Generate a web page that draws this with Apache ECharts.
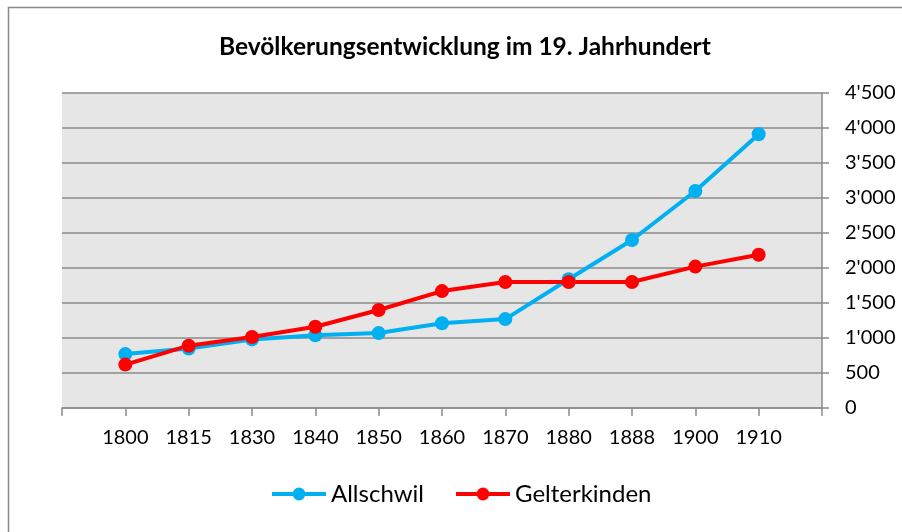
<!DOCTYPE html>
<html>
<head>
<meta charset="utf-8">
<script src="https://cdn.jsdelivr.net/npm/echarts@6/dist/echarts.min.js"></script>
<style>
  html, body { margin: 0; padding: 0; background: #fff; }
  #chart { width: 902px; height: 532px; }
</style>
</head>
<body>
<div id="chart"></div>
<script>
// Jahre (leere Kategorie vorne und hinten wie im Original)
const years = ['', '1800', '1815', '1830', '1840', '1850', '1860', '1870', '1880', '1888', '1900', '1910', ''];
const allschwil = [null, 770, 850, 980, 1040, 1070, 1210, 1270, 1840, 2400, 3100, 3910, null];
const gelterkinden = [null, 620, 890, 1015, 1160, 1400, 1670, 1800, 1800, 1800, 2020, 2190, null];
const yTicks = [0, 4500, 500]; // min, max, interval

const font = 'Lato, "Open Sans", sans-serif';
const gridColor = '#8a8a8a';

// 1'000 Format
const fmt = (v) => String(v).replace(/\B(?=(\d{3})+(?!\d))/g, "'");

const myChart = echarts.init(document.getElementById('chart'));

const option = {
  backgroundColor: '#fff',
  animation: false,
  title: {
    text: 'Bevölkerungsentwicklung im 19. Jahrhundert',
    left: 214,
    top: 30,
    textStyle: { fontFamily: font, fontSize: 24.5, fontWeight: 'bold', color: '#000' },
  },
  legend: {
    bottom: 21,
    left: 265,
    itemWidth: 54,
    itemHeight: 16,
    itemGap: 30,
    lineStyle: { width: 4 },
    textStyle: { fontFamily: font, fontSize: 24, color: '#000' },
    data: ['Allschwil', 'Gelterkinden'],
  },
  graphic: [
    {
      type: 'rect',
      shape: { x: 8.5, y: 7.5, width: 1000, height: 1000 },
      style: { fill: 'none', stroke: '#8a8a8a', lineWidth: 1.5 },
      silent: true,
    },
  ],
  grid: { left: 62, right: 80, top: 93, bottom: 124, show: true, backgroundColor: '#e6e6e6', borderWidth: 0 },
  xAxis: {
    type: 'category',
    data: years,
    boundaryGap: false,
    axisLine: { show: true, lineStyle: { color: gridColor, width: 1.5 } },
    axisTick: { show: true, interval: 0, length: 8, lineStyle: { color: gridColor, width: 1.5 } },
    axisLabel: { interval: 0, margin: 20, fontFamily: font, fontSize: 20, color: '#000' },
    splitLine: { show: false },
  },
  yAxis: {
    type: 'value',
    position: 'right',
    min: yTicks[0],
    max: yTicks[1],
    interval: yTicks[2],
    axisLine: { show: true, lineStyle: { color: gridColor, width: 1.5 } },
    axisTick: { show: true, length: 7, lineStyle: { color: gridColor, width: 1.5 } },
    axisLabel: { margin: 23, fontFamily: font, fontSize: 20, color: '#000', formatter: fmt },
    splitLine: { show: true, lineStyle: { color: gridColor, width: 1.5 } },
  },
  series: [
    {
      name: 'Allschwil',
      type: 'line',
      data: allschwil,
      symbol: 'circle',
      symbolSize: 14,
      showAllSymbol: true,
      color: '#00b0f0',
      lineStyle: { width: 4, color: '#00b0f0' },
      itemStyle: { color: '#00b0f0' },
    },
    {
      name: 'Gelterkinden',
      type: 'line',
      data: gelterkinden,
      symbol: 'circle',
      symbolSize: 14,
      showAllSymbol: true,
      color: '#ff0000',
      lineStyle: { width: 4, color: '#ff0000' },
      itemStyle: { color: '#ff0000' },
    },
  ],
};

myChart.setOption(option);
</script>
</body>
</html>
